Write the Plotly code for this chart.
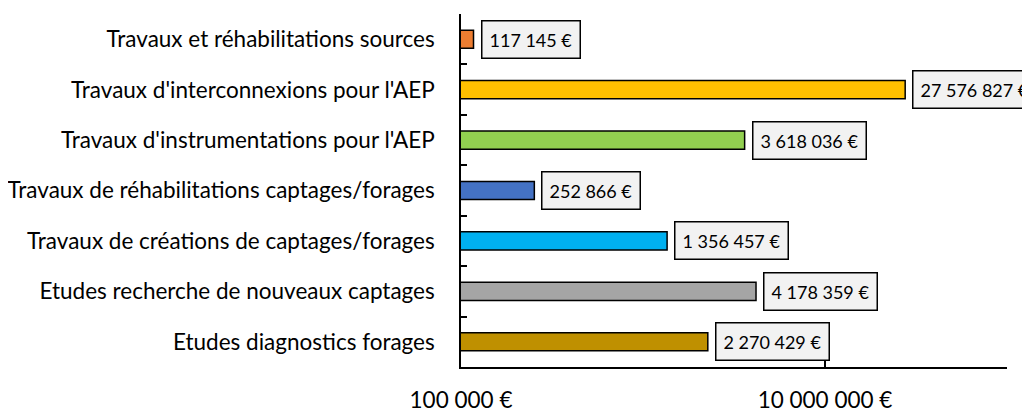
import math
import plotly.graph_objects as go

# Données (de bas en haut)
categories = [
    "Etudes diagnostics forages",
    "Etudes recherche de nouveaux captages",
    "Travaux de créations de captages/forages",
    "Travaux de réhabilitations captages/forages",
    "Travaux d'instrumentations pour l'AEP",
    "Travaux d'interconnexions pour l'AEP",
    "Travaux et réhabilitations sources",
]
montants = [2270429, 4178359, 1356457, 252866, 3618036, 27576827, 117145]
couleurs = ["#BF9000", "#A5A5A5", "#00B0F0", "#4472C4", "#92D050", "#FFC000", "#ED7D31"]

x_ticks = [100000, 10000000]
x_tick_labels = ["100 000 €", "10 000 000 €"]


def fmt_euro(v):
    return f"{v:,}".replace(",", " ") + " €"


fig = go.Figure()
fig.add_trace(go.Bar(
    x=montants,
    y=categories,
    orientation="h",
    width=0.36,
    marker=dict(color=couleurs, line=dict(color="#000000", width=1.5)),
    hoverinfo="x+y",
))

# étiquettes de valeurs encadrées
for cat, v in zip(categories, montants):
    fig.add_annotation(
        x=math.log10(v), y=cat, xref="x", yref="y",
        text=fmt_euro(v), showarrow=False,
        xanchor="left", xshift=7,
        font=dict(family="Lato", size=18, color="#000000"),
        bgcolor="#F2F2F2", bordercolor="#000000", borderwidth=1.5, borderpad=7,
    )

# la page ajoute 8 px de marge autour du graphique
fig.update_layout(
    width=1030, height=412,
    margin=dict(l=453, r=31, t=6, b=53),
    paper_bgcolor="white", plot_bgcolor="white",
    showlegend=False,
    font=dict(family="Lato", size=18, color="#000000"),
)
fig.update_xaxes(
    type="log", range=[5, 8], automargin=False,
    tickvals=x_ticks, ticktext=x_tick_labels,
    showgrid=False, zeroline=False,
    showline=True, linecolor="#000000", linewidth=1.5,
    ticks="inside", ticklen=7, tickwidth=1.5, tickcolor="#000000",
    tickfont=dict(family="Lato", size=22.5),
    ticklabelstandoff=12,
)
fig.update_yaxes(
    type="category", categoryorder="array", categoryarray=categories,
    range=[-0.5, len(categories) - 0.5], automargin=False,
    showgrid=False, zeroline=False,
    showline=True, linecolor="#000000", linewidth=1.5,
    ticks="inside", tickson="boundaries", ticklen=6, tickwidth=1.5, tickcolor="#000000",
    tickfont=dict(family="Lato", size=22.5),
    ticklabelstandoff=20,
)

fig.write_html("out.html")
